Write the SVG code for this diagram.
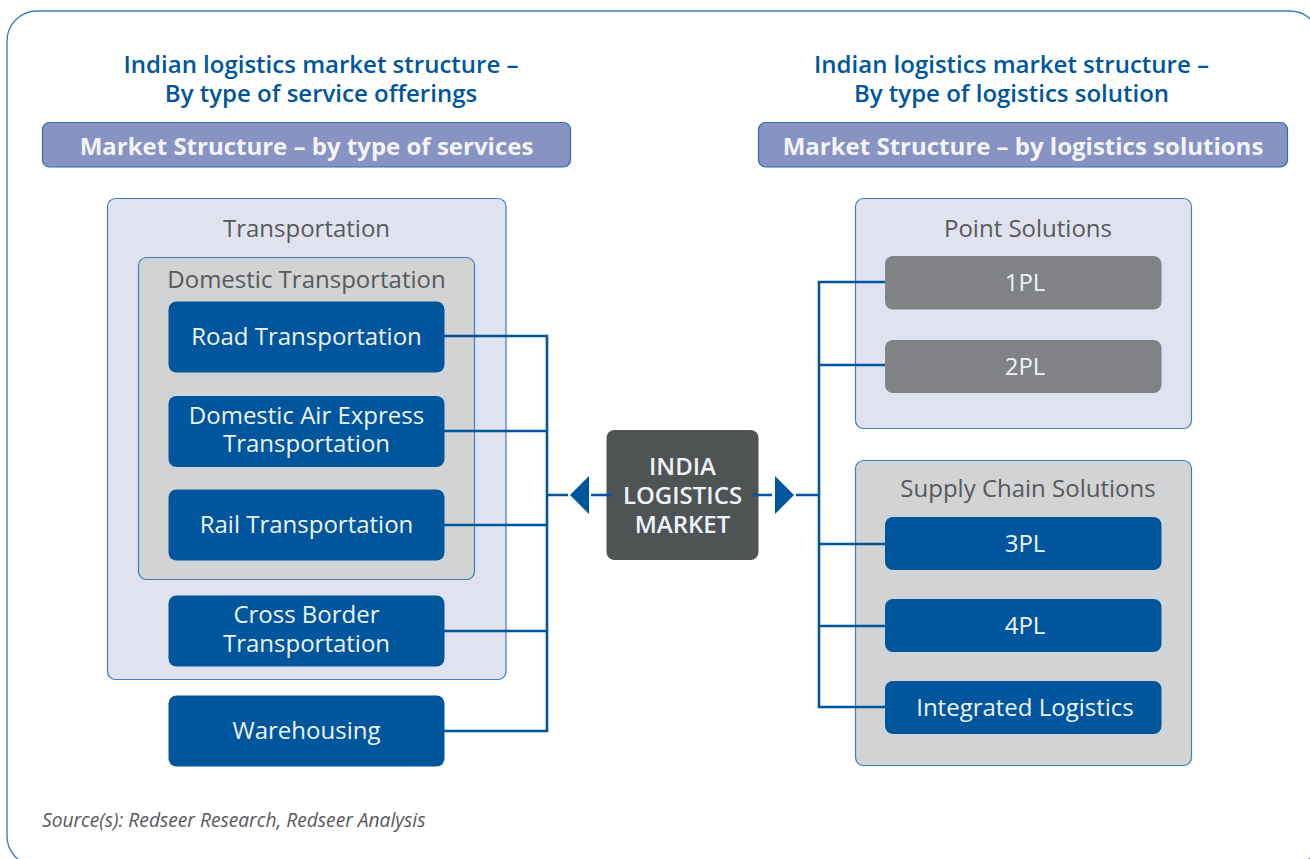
<svg xmlns="http://www.w3.org/2000/svg" width="1310" height="859" viewBox="0 0 1310 859">
<style>
text{font-family:"Open Sans","Noto Sans",sans-serif;text-anchor:middle}
.title{font-size:24px;font-weight:600;fill:#00569d}
.band{fill:#8793c2;stroke:#2f6fae;stroke-width:1.2}
.bandt{font-size:24px;font-weight:700;fill:#f4f5fa}
.lav{fill:#e0e3ef;stroke:#3f7fbb;stroke-width:1.2}
.gray{fill:#d1d3d4;stroke:#3f7fbb;stroke-width:1.2}
.blue{fill:#00569d}
.dk{fill:#808285}
.lbl{font-size:24px;fill:#58595b}
.w{font-size:24px;fill:#eef3f9}
.con{fill:none;stroke:#00569d;stroke-width:2.6}
</style>
<rect width="1310" height="859" fill="#fff"/>
<rect id="frame" x="7" y="11" width="1313" height="855" rx="30" fill="none" stroke="#3f7fbb" stroke-width="1.4"/>
<g id="head-left"><text class="title" x="321" y="73">Indian logistics market structure –</text><text class="title" x="321" y="102">By type of service offerings</text></g>
<g id="head-right"><text class="title" x="1011.500" y="73">Indian logistics market structure –</text><text class="title" x="1011.500" y="102">By type of logistics solution</text></g>
<g id="band-left"><rect class="band" x="42.500" y="122.500" width="528" height="44.500" rx="7"/><text class="bandt" x="306.500" y="155">Market Structure – by type of services</text></g>
<g id="band-right"><rect class="band" x="758.500" y="122.500" width="529" height="44.500" rx="7"/><text class="bandt" x="1023" y="155">Market Structure – by logistics solutions</text></g>
<g id="transportation"><rect class="lav" x="107.500" y="198.500" width="398.500" height="481" rx="8"/><text class="lbl" x="306.500" y="237">Transportation</text></g>
<g id="domestic"><rect class="gray" x="138.500" y="257.500" width="336" height="322" rx="8"/><text class="lbl" x="306.500" y="288">Domestic Transportation</text></g>
<g id="road"><rect class="blue" x="168.500" y="301.500" width="276" height="71" rx="8"/><text class="w" x="306.500" y="345">Road Transportation</text></g>
<g id="air"><rect class="blue" x="168.500" y="396" width="276" height="71" rx="8"/><text class="w" x="306.500" y="424">Domestic Air Express</text><text class="w" x="306.500" y="452">Transportation</text></g>
<g id="rail"><rect class="blue" x="168.500" y="489.500" width="276" height="71" rx="8"/><text class="w" x="306.500" y="533">Rail Transportation</text></g>
<g id="cross"><rect class="blue" x="168.500" y="595.500" width="276" height="71" rx="8"/><text class="w" x="306.500" y="623">Cross Border</text><text class="w" x="306.500" y="652">Transportation</text></g>
<g id="warehousing"><rect class="blue" x="168.500" y="695.500" width="276" height="71" rx="8"/><text class="w" x="306.500" y="739">Warehousing</text></g>
<g id="india"><rect x="606.500" y="430" width="152" height="130" rx="8" fill="#505354"/><g style="font-weight:600"><text class="w" x="682.500" y="475">INDIA</text><text class="w" x="682.500" y="504">LOGISTICS</text><text class="w" x="682.500" y="533">MARKET</text></g></g>
<g id="point"><rect class="lav" x="855.500" y="198.500" width="336" height="230" rx="8"/><text class="lbl" x="1028" y="237">Point Solutions</text></g>
<g id="pl1"><rect class="dk" x="885" y="256" width="276.500" height="53.500" rx="8"/><text class="w" x="1025" y="291">1PL</text></g>
<g id="pl2"><rect class="dk" x="885" y="340" width="276.500" height="53" rx="8"/><text class="w" x="1025" y="375">2PL</text></g>
<g id="supply"><rect class="gray" x="855.500" y="460.500" width="336" height="305" rx="8"/><text class="lbl" x="1028" y="497">Supply Chain Solutions</text></g>
<g id="pl3"><rect class="blue" x="885" y="517" width="276.500" height="53" rx="8"/><text class="w" x="1025" y="552">3PL</text></g>
<g id="pl4"><rect class="blue" x="885" y="599" width="276.500" height="53" rx="8"/><text class="w" x="1025" y="634">4PL</text></g>
<g id="integrated"><rect class="blue" x="885" y="681" width="276.500" height="53" rx="8"/><text class="w" x="1025" y="716">Integrated Logistics</text></g>
<g id="connectors">
<path class="con" d="M444 336H547V731H444M444 431H547M444 525H547M444 631H547M547 495H568M591 495H612"/>
<path class="con" d="M885 282H819V707H885M885 365H819M885 544H819M885 626H819M819 495H796M772 495H753"/>
<path fill="#00569d" d="M589 476V514L570 495Z M775 476V514L794 495Z"/>
</g>
<text id="source" x="42" y="827" font-size="19.200" font-style="italic" fill="#58595b" style="text-anchor:start">Source(s): Redseer Research, Redseer Analysis</text>
</svg>
